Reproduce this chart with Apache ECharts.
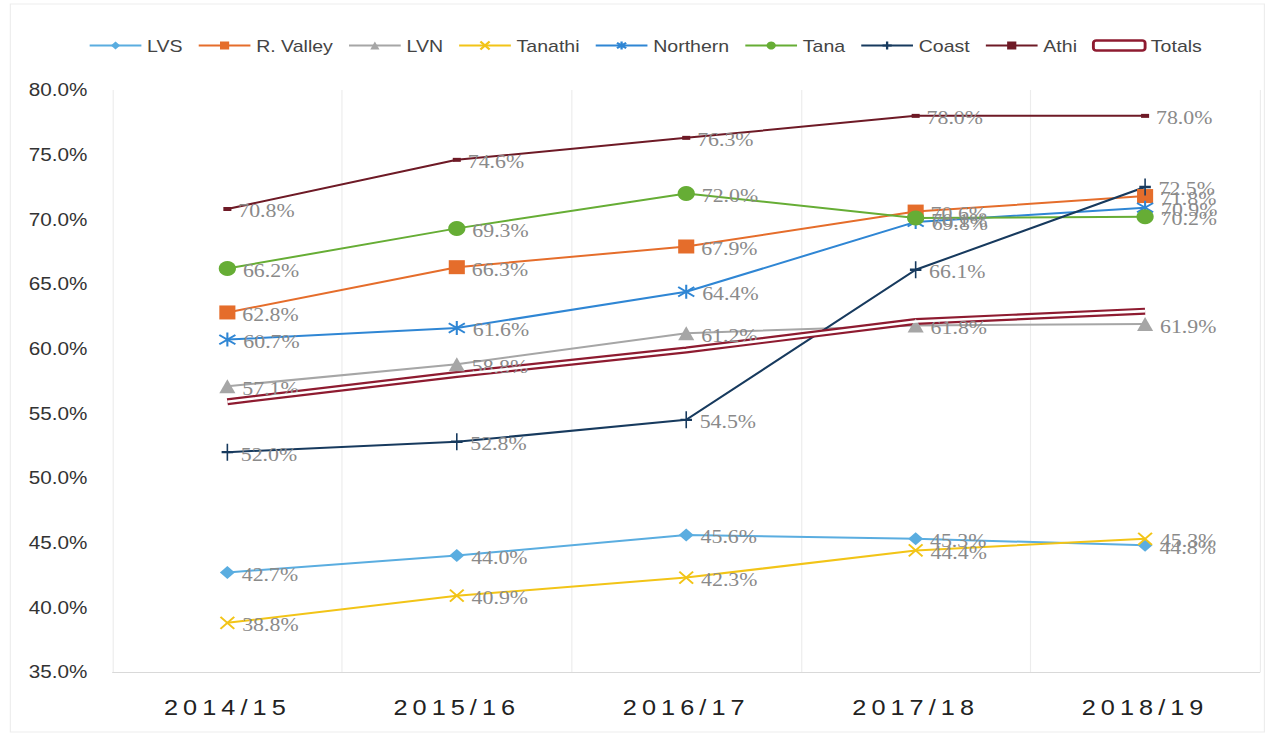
<!DOCTYPE html>
<html>
<head>
<meta charset="utf-8">
<script src="https://cdn.jsdelivr.net/npm/echarts@6/dist/echarts.min.js"></script>
<style>
  html, body { margin: 0; padding: 0; background: #fff; overflow: hidden; }
  #wrap { width: 1269px; height: 736px; overflow: hidden; position: relative; }
  /* the chart is laid out narrower and widened, giving the broad lettering */
  #chart { width: 1104px; height: 736px; transform: scaleX(1.14946); transform-origin: 0 0; }
  #chart text[style*="xcat"] { letter-spacing: 4.4px; }
</style>
</head>
<body>
<div id="wrap"><div id="chart"></div></div>
<script>
// Years on the category axis
const years = ['2014/15', '2015/16', '2016/17', '2017/18', '2018/19'];

// Percentage values per region
const lvs      = [42.7, 44.0, 45.6, 45.3, 44.8];
const rValley  = [62.8, 66.3, 67.9, 70.6, 71.8];
const lvn      = [57.1, 58.8, 61.2, 61.8, 61.9];
const tanathi  = [38.8, 40.9, 42.3, 44.4, 45.3];
const northern = [60.7, 61.6, 64.4, 69.8, 70.9];
const tana     = [66.2, 69.3, 72.0, 70.1, 70.2];
const coast    = [52.0, 52.8, 54.5, 66.1, 72.5];
const athi     = [70.8, 74.6, 76.3, 78.0, 78.0];
const totals   = [55.9, 58.0, 59.9, 62.1, 62.9];

// Y axis range
const yMin = 35, yMax = 80, yStep = 5;

const labelStyle = {
  show: true,
  position: 'right',
  distance: 6,
  offset: [0, 2],
  color: '#8a8a8a',
  fontSize: 19,
  fontFamily: 'Liberation Serif, DejaVu Serif, serif',
  formatter: p => p.value.toFixed(1) + '%'
};

const X_PATH = 'path://M0,0L10,10M10,0L0,10';
const STAR_PATH = 'path://M0,1L10,9M10,1L0,9M5,-1L5,11';
const PLUS_PATH = 'path://M5,0L5,16M1,8L9,8';

function line(name, data, color, symbol, size, opts) {
  opts = opts || {};
  return Object.assign({
    name: name,
    type: 'line',
    data: data,
    symbol: symbol,
    symbolSize: size,
    showAllSymbol: true,
    lineStyle: { color: color, width: 2 },
    itemStyle: { color: color },
    label: labelStyle,
    emphasis: { disabled: true }
  }, opts);
}

const strokeMark = (color, w) => ({ color: color, borderColor: color, borderWidth: w });

const series = [
  line('LVS', lvs, '#5aade0', 'diamond', 13),
  line('R. Valley', rValley, '#e56d2b', 'rect', 14),
  line('LVN', lvn, '#a6a6a6', 'triangle', 14),
  line('Tanathi', tanathi, '#f2c417', X_PATH, 12, { itemStyle: strokeMark('#f2c417', 1.8) }),
  line('Northern', northern, '#2f86d4', STAR_PATH, 14, { itemStyle: strokeMark('#2f86d4', 1.8) }),
  line('Tana', tana, '#66ad35', 'circle', 15),
  line('Coast', coast, '#173a5e', PLUS_PATH, [10, 17], { itemStyle: strokeMark('#173a5e', 1.8) }),
  line('Athi', athi, '#6e1a26', 'rect', [7, 4]),
  line('Totals', totals, '#8e1b30', 'none', 0, { lineStyle: { color: '#8e1b30', width: 7 }, z: 3 }),
  // white core that turns the totals stroke into a double line
  {
    name: 'totalsCore',
    type: 'line',
    data: totals,
    symbol: 'none',
    silent: true,
    z: 4,
    lineStyle: { color: '#ffffff', width: 2.6 },
    emphasis: { disabled: true }
  }
];

const legendNames = ['LVS', 'R. Valley', 'LVN', 'Tanathi', 'Northern', 'Tana', 'Coast', 'Athi'];
const legendData = legendNames.map(n => ({ name: n }));
legendData.push({
  name: 'Totals',
  icon: 'roundRect',
  itemStyle: { color: '#ffffff', borderColor: '#8e1b30', borderWidth: 2.5 }
});

const chart = echarts.init(document.getElementById('chart'), null, { renderer: 'svg' });
chart.setOption({
  animation: false,
  backgroundColor: '#ffffff',
  graphic: [{
    // faint frame round the whole chart
    type: 'rect',
    shape: { x: 9, y: 4, width: 1091, height: 728 },
    style: { fill: 'none', stroke: '#ededed', lineWidth: 1 },
    silent: true,
    z: -10
  }],
  grid: { left: 98, right: 8, top: 90, bottom: 64 },
  legend: {
    data: legendData,
    left: 72,
    top: 32,
    itemWidth: 45,
    itemHeight: 10,
    itemGap: 13,
    textStyle: { color: '#444', fontSize: 17, fontFamily: 'Liberation Sans, Arial, sans-serif' }
  },
  xAxis: {
    type: 'category',
    data: years,
    boundaryGap: true,
    axisTick: { show: false },
    axisLine: { lineStyle: { color: '#d9d9d9', width: 1 } },
    splitLine: { show: true, lineStyle: { color: '#ececec', width: 1 } },
    axisLabel: {
      color: '#222',
      fontSize: 22,
      margin: 25,
      fontFamily: 'Liberation Sans, xcat'
    }
  },
  yAxis: {
    type: 'value',
    min: yMin,
    max: yMax,
    interval: yStep,
    axisLine: { show: false },
    axisTick: { show: false },
    splitLine: { show: false },
    axisLabel: {
      color: '#333',
      fontSize: 18,
      margin: 22,
      fontFamily: 'Liberation Sans, Arial, sans-serif',
      formatter: v => v.toFixed(1) + '%'
    }
  },
  series: series
});
</script>
</body>
</html>
